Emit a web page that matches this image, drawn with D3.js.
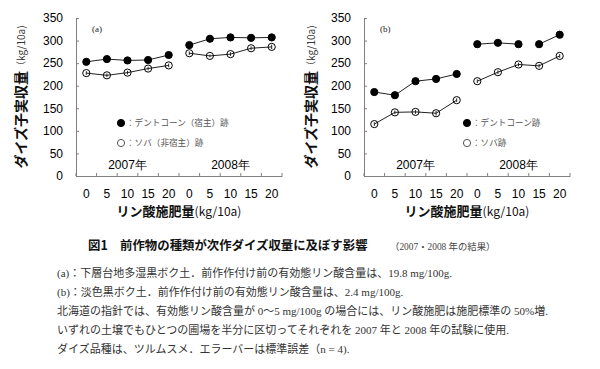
<!DOCTYPE html>
<html><head><meta charset="utf-8">
<script src="https://cdn.jsdelivr.net/npm/d3@7"></script>
<style>body{margin:0;background:#fff}svg{display:block}</style>
</head><body><svg id="c" width="600" height="369"></svg>
<script>
// ---- data ----
const rates = ["0","5","10","15","20"];
const years = ["2007年","2008年"];
const yTicks = [0,50,100,150,200,250,300,350];
// panel (a)
const aCorn    = [253,259,256,257,268, 290,304,307,306,307];
const aCornSE  = [4,4,3,4,4, 5,4,6,4,4];
const aBuck    = [228,223,229,238,245, 272,266,270,283,286];
const aBuckSE  = [4,4,4,4,4, 4,3,4,4,5];
// panel (b)
const bCorn    = [186,179,210,215,226, 292,295,292,292,313];
const bCornSE  = [4,3,4,4,4, 4,4,4,4,4];
const bBuck    = [115,141,142,139,168, 210,230,247,244,266];
const bBuckSE  = [4,4,4,5,4, 4,4,4,4,4];
// connected runs of points (indexes)
const runsDefault = [[0,1,2,3,4],[5,6,7,8,9]];
const bCornRuns   = [[0,1,2,3,4],[5,6,7],[8,9]];
const legendA = ["：デントコーン（宿主）跡","：ソバ（非宿主）跡"];
const legendB = ["：デントコーン跡","：ソバ跡"];
const caption = "図1　前作物の種類が次作ダイズ収量に及ぼす影響";
const captionSub = "（2007・2008 年の結果）";
const notes = [
 "(a)：下層台地多湿黒ボク土．前作作付け前の有効態リン酸含量は、19.8 mg/100g.",
 "(b)：淡色黒ボク土．前作作付け前の有効態リン酸含量は、2.4 mg/100g.",
 "北海道の指針では、有効態リン酸含量が 0～5 mg/100g の場合には、リン酸施肥は施肥標準の 50%増.",
 "いずれの土壌でもひとつの圃場を半分に区切ってそれぞれを 2007 年と 2008 年の試験に使用.",
 "ダイズ品種は、ツルムスメ．エラーバーは標準誤差（n = 4)."
];

const svg = d3.select("#c");
svg.append("rect").attr("width",600).attr("height",369).attr("fill","#fff");
const SANS = "'Liberation Sans', Arial, sans-serif";
const CJK = "'Noto Sans CJK JP', sans-serif";
const SERIF = "'Liberation Serif', 'Noto Sans CJK JP', serif";

const cats = [];
years.forEach((yr,i)=>rates.forEach(r=>cats.push(i+"-"+r)));

function panel(cfg){
  const x = d3.scaleBand().domain(cats).range(cfg.xr);
  const y = d3.scaleLinear().domain([0,350]).range([176,18]);
  const g = svg.append("g");
  const axisCol = "#808080";
  // y axis
  const ya = g.append("g").attr("transform",`translate(${cfg.xr[0]},0)`)
    .call(d3.axisLeft(y).tickValues(yTicks).tickSizeInner(-3).tickSizeOuter(0).tickPadding(13));
  ya.select(".domain").attr("stroke",axisCol);
  ya.selectAll(".tick line").attr("stroke",axisCol);
  ya.selectAll("text").attr("font-family",SANS).attr("font-size",12).attr("fill","#000");
  // x axis
  const xa = g.append("g").attr("transform",`translate(0,${y(0)})`)
    .call(d3.axisBottom(x).tickFormat(d=>d.split("-")[1]).tickSize(0).tickPadding(13));
  xa.select(".domain").attr("stroke",axisCol);
  xa.selectAll("text").attr("font-family",SANS).attr("font-size",12).attr("fill","#000");
  // x ticks at band edges, pointing up
  const edges = cats.map(c=>x(c)).concat([x(cats[cats.length-1])+x.bandwidth()]);
  g.selectAll(".edge").data(edges).enter().append("line")
    .attr("x1",d=>d).attr("x2",d=>d).attr("y1",y(0)).attr("y2",y(0)-3)
    .attr("stroke",axisCol);
  const cx = i => x(cats[i]) + x.bandwidth()/2;
  // series
  function series(vals, se, runs, filled){
    const line = d3.line().x(i=>cx(i)).y(i=>y(vals[i]));
    runs.forEach(r=>g.append("path").attr("d",line(r)).attr("fill","none")
      .attr("stroke","#222").attr("stroke-width",1));
    vals.forEach((v,i)=>{
      g.append("line").attr("x1",cx(i)).attr("x2",cx(i))
        .attr("y1",y(v-se[i])).attr("y2",y(v+se[i])).attr("stroke","#222").attr("stroke-width",1);
      g.append("circle").attr("cx",cx(i)).attr("cy",y(v)).attr("r",3.6)
        .attr("fill",filled?"#000":"none").attr("stroke","#000").attr("stroke-width",1);
    });
  }
  series(cfg.buck, cfg.buckSE, runsDefault, false);
  series(cfg.corn, cfg.cornSE, cfg.cornRuns, true);
  // panel label
  g.append("text").attr("x",cfg.xr[0]+16).attr("y",32).text(cfg.label)
    .attr("font-family",SERIF).attr("font-size",9).attr("fill","#222");
  // year labels
  years.forEach((yr,i)=>{
    const mid = (x(i+"-0") + x(i+"-20")+x.bandwidth())/2;
    g.append("text").attr("x",mid).attr("y",169).attr("text-anchor","middle")
      .attr("font-family",SANS).attr("font-size",12).attr("fill","#000").text(yr);
  });
  // legend
  const lx = cfg.legX;
  [0,1].forEach(k=>{
    const yy = 123 + k*20;
    g.append("circle").attr("cx",lx).attr("cy",yy).attr("r",3.6)
      .attr("fill",k===0?"#000":"none").attr("stroke",k===0?"#000":"#555").attr("stroke-width",1);
    g.append("text").attr("x",lx+5).attr("y",yy+3).text(cfg.legend[k])
      .attr("font-family",CJK).attr("font-size",8.6).attr("fill","#555");
  });
  // y title
  const yt = g.append("text").attr("transform",`translate(${cfg.ytx},97) rotate(-90)`)
    .attr("text-anchor","middle").attr("dominant-baseline","middle");
  yt.append("tspan").text("ダイズ子実収量").attr("font-family",CJK).attr("font-weight","bold").attr("font-size",14).attr("fill","#111");
  yt.append("tspan").text("（kg/10a)").attr("font-family",CJK).attr("font-size",10).attr("fill","#333");
  // x title
  const xt = g.append("text").attr("x",(cfg.xr[0]+cfg.xr[1])/2).attr("y",216).attr("text-anchor","middle");
  xt.append("tspan").text("リン酸施肥量").attr("font-family",CJK).attr("font-weight","bold").attr("font-size",13).attr("fill","#111");
  xt.append("tspan").text("(kg/10a)").attr("font-family",CJK).attr("font-size",12).attr("fill","#111");
}

panel({xr:[76,282], corn:aCorn, cornSE:aCornSE, buck:aBuck, buckSE:aBuckSE, cornRuns:runsDefault,
  label:"(a)", legend:legendA, legX:121, ytx:22});
panel({xr:[364,570], corn:bCorn, cornSE:bCornSE, buck:bBuck, buckSE:bBuckSE, cornRuns:bCornRuns,
  label:"(b)", legend:legendB, legX:467, ytx:312});

// caption
svg.append("text").attr("x",88).attr("y",250).text(caption)
  .attr("font-family",CJK).attr("font-weight","bold").attr("font-size",12.4).attr("fill","#111");
svg.append("text").attr("x",390).attr("y",250).text(captionSub)
  .attr("font-family",SERIF).attr("font-size",9.4).attr("fill","#444");
// notes
notes.forEach((t,i)=>{
  svg.append("text").attr("x",57).attr("y",277+i*19).text(t)
    .attr("font-family",SERIF).attr("font-size",11).attr("fill","#333");
});
</script></body></html>
